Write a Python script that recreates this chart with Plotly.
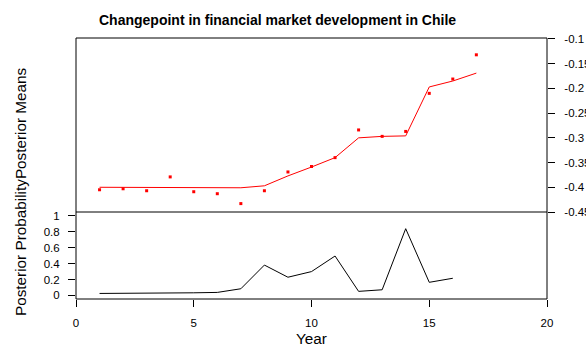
import plotly.graph_objects as go

# ---- data ----
years = list(range(1, 18))
observed = [-0.405, -0.403, -0.407, -0.379, -0.409, -0.413, -0.433, -0.407, -0.369,
            -0.358, -0.340, -0.284, -0.297, -0.287, -0.210, -0.181, -0.132]
posterior_mean = [-0.400, -0.400, -0.400, -0.400, -0.400, -0.401, -0.401, -0.397, -0.377,
                  -0.359, -0.340, -0.300, -0.297, -0.296, -0.197, -0.185, -0.169]
prob_years = list(range(1, 17))
posterior_prob = [0.025, 0.025, 0.026, 0.033, 0.033, 0.038, 0.084, 0.382, 0.229,
                  0.300, 0.496, 0.051, 0.071, 0.840, 0.165, 0.216]

x_ticks = [0, 5, 10, 15, 20]
x_ticktext = ["0", "5", "10", "15", "20"]
prob_ticks = [0, 0.2, 0.4, 0.6, 0.8, 1]
prob_ticktext = ["0", "0.2", "0.4", "0.6", "0.8", "1"]
mean_ticks = [-0.45, -0.4, -0.35, -0.3, -0.25, -0.2, -0.15, -0.1]
mean_ticktext = ["-0.45", "-0.4", "-0.35", "-0.3", "-0.25", "-0.2", "-0.15", "-0.1"]

title_text = "Changepoint in financial market development in Chile"
ytitle_text = "Posterior ProbabilityPosterior Means"
xtitle_text = "Year"

# ---- layout geometry (page pixels; body margin is removed below) ----
W, H = 586, 356
BOX_L, BOX_R, BOX_T, BOX_B = 76, 547, 38, 299
ML, MR, MT, MB = BOX_L, W - BOX_R, BOX_T, H - BOX_B
PW, PH = BOX_R - BOX_L, BOX_B - BOX_T
split = (BOX_B - 212) / PH


def px2paper(x, y):
    return (x - BOX_L) / PW, (BOX_B - y) / PH


FONT = "Liberation Sans, Arial, sans-serif"

fig = go.Figure()

fig.add_trace(go.Scatter(x=years, y=posterior_mean, mode="lines",
                         line=dict(color="#ff0000", width=1),
                         xaxis="x2", yaxis="y2", showlegend=False))
fig.add_trace(go.Scatter(x=years, y=observed, mode="markers",
                         marker=dict(color="#ff0000", size=3, symbol="square",
                                     line=dict(width=0)),
                         xaxis="x2", yaxis="y2", showlegend=False))
fig.add_trace(go.Scatter(x=prob_years, y=posterior_prob, mode="lines",
                         line=dict(color="#000000", width=1),
                         xaxis="x", yaxis="y", showlegend=False))

tickfont = dict(family=FONT, size=11.5, color="#000000")

fig.update_layout(
    template="none",
    width=W, height=H,
    margin=dict(l=ML, r=MR, t=MT, b=MB, pad=0, autoexpand=False),
    paper_bgcolor="white", plot_bgcolor="white",
    font=dict(family=FONT, color="#000000"),
    xaxis=dict(domain=[0, 1], range=[0, 20], anchor="y", automargin=False,
               tickvals=x_ticks, ticktext=x_ticktext,
               ticks="outside", ticklen=7, tickwidth=1, tickcolor="#000",
               ticklabelstandoff=6, ticklabeloverflow="allow",
               showgrid=False, zeroline=False, showline=False, tickfont=tickfont),
    yaxis=dict(domain=[0, split], range=[-0.045, 1.05], anchor="x", automargin=False,
               tickvals=prob_ticks, ticktext=prob_ticktext,
               ticks="outside", ticklen=7, tickwidth=1, tickcolor="#000",
               ticklabelstandoff=6, ticklabeloverflow="allow",
               showgrid=False, zeroline=False, showline=False, tickfont=tickfont),
    xaxis2=dict(domain=[0, 1], range=[0, 20], anchor="y2", visible=False, automargin=False),
    yaxis2=dict(domain=[split, 1], range=[-0.45, -0.098], anchor="x2", side="right",
                automargin=False,
                tickvals=mean_ticks, ticktext=mean_ticktext,
                ticks="outside", ticklen=7, tickwidth=1, tickcolor="#000",
                ticklabelstandoff=7, ticklabeloverflow="allow",
                showgrid=False, zeroline=False, showline=False, tickfont=tickfont),
    shapes=[
        dict(type="rect", xref="paper", yref="paper", x0=0, x1=1, y0=0, y1=1,
             line=dict(color="#000", width=1), layer="above"),
        dict(type="line", xref="paper", yref="paper", x0=0, x1=1, y0=split, y1=split,
             line=dict(color="#000", width=1), layer="above"),
    ],
)

tx, ty = px2paper(277.5, 20)
yx, yy = px2paper(20, 192)
xx, xy = px2paper(311.5, 338)
fig.add_annotation(text="<b>" + title_text + "</b>", x=tx, y=ty, xref="paper", yref="paper",
                   showarrow=False, xanchor="center", yanchor="middle",
                   font=dict(family=FONT, size=14, color="#000"))
fig.add_annotation(text=ytitle_text, x=yx, y=yy, xref="paper", yref="paper",
                   showarrow=False, xanchor="center", yanchor="middle", textangle=-90,
                   font=dict(family=FONT, size=15.3, color="#000"))
fig.add_annotation(text=xtitle_text, x=xx, y=xy, xref="paper", yref="paper",
                   showarrow=False, xanchor="center", yanchor="middle",
                   font=dict(family=FONT, size=15.3, color="#000"))

fig.write_html(
    "out.html",
    config={"displayModeBar": False},
    post_script="document.body.style.margin='0';"
                "document.documentElement.style.overflow='hidden';",
)
